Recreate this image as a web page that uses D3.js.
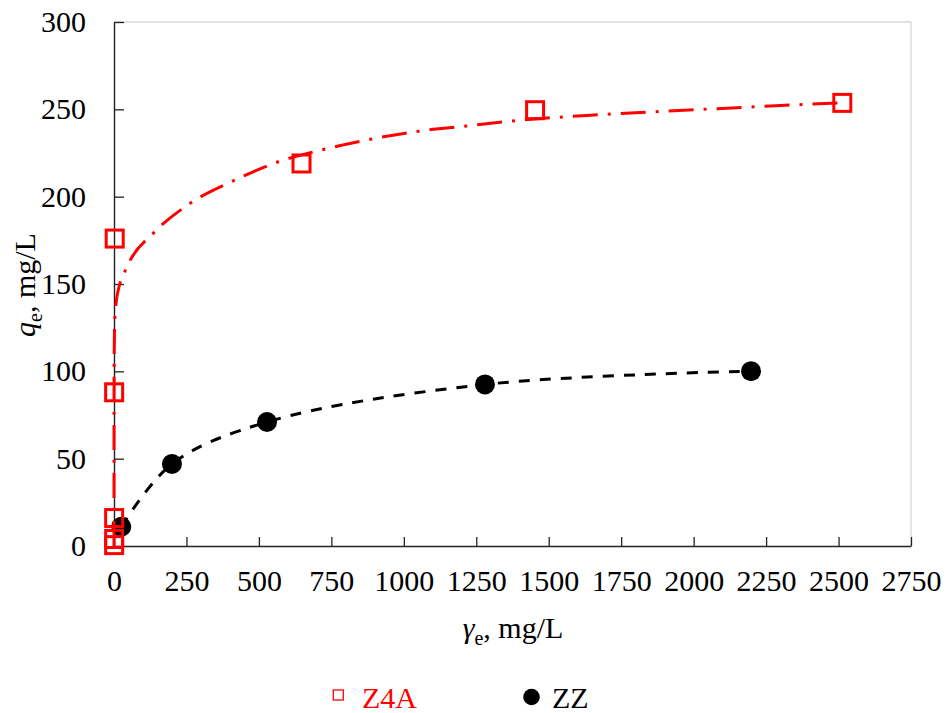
<!DOCTYPE html>
<html>
<head>
<meta charset="utf-8">
<script src="https://cdn.jsdelivr.net/npm/d3@7"></script>
<style>
  html, body { margin: 0; padding: 0; background: #fff; }
  svg { display: block; }
  text { font-family: "Liberation Serif", "Times New Roman", serif; }
</style>
</head>
<body>
<svg id="chart" width="948" height="713"></svg>
<script>
// ---------- data ----------
const xTicks = [0, 250, 500, 750, 1000, 1250, 1500, 1750, 2000, 2250, 2500, 2750];
const yTicks = [0, 50, 100, 150, 200, 250, 300];

// Z4A measured points
const z4aC = [0.5, 0.5, 0.5, 0.5, 2.4, 647, 1453, 2513];
const z4aQ = [0.5, 4, 16, 88, 176, 219, 249.5, 253.7];

// Z4A fitted curve
const z4aFitC = [0, 0.05, 0.3, 1, 2.4, 6, 20, 37, 54, 135, 261, 411, 567, 722, 889, 1052, 1217, 1384, 1632, 1799, 1966, 2133, 2300, 2513];
const z4aFitQ = [0, 60, 100, 115, 128, 137, 150, 157, 163, 179, 196, 209, 220, 227, 233, 237.5, 240.5, 243.5, 246.5, 248, 249.5, 250.8, 252.2, 253.7];

// ZZ measured points
const zzC = [25, 200, 528, 1280, 2198];
const zzQ = [11, 47, 71, 92.5, 100.1];

const seriesNames = ["Z4A", "ZZ"];
const seriesColors = ["#ff0000", "#000000"];

// ---------- layout ----------
const svg = d3.select("#chart");
const x = d3.scaleLinear().domain([0, 2750]).range([114, 911]);
const y = d3.scaleLinear().domain([0, 300]).range([546, 22]);
const FS = 30;

// plot border (light gray, top & right)
svg.append("path")
  .attr("d", `M${x(0)},${y(300)}H${x(2750)}V${y(0)}`)
  .attr("fill", "none").attr("stroke", "#d9d9d9").attr("stroke-width", 1.3);

// axes
const xAxis = d3.axisBottom(x).tickValues(xTicks).tickFormat(d3.format("d"))
  .tickSizeInner(-9).tickSizeOuter(0).tickPadding(24);
const yAxis = d3.axisLeft(y).tickValues(yTicks).tickFormat(d3.format("d"))
  .tickSizeInner(-10).tickSizeOuter(0).tickPadding(28);

const gx = svg.append("g").attr("transform", `translate(0,${y(0)})`).call(xAxis);
const gy = svg.append("g").attr("transform", `translate(${x(0)},0)`).call(yAxis);
[gx, gy].forEach(g => {
  g.select(".domain").attr("stroke", "#222").attr("stroke-width", 1.4);
  g.selectAll(".tick line").attr("stroke", "#222").attr("stroke-width", 1.3);
  g.selectAll(".tick text").attr("fill", "#000").attr("font-size", FS)
    .attr("font-family", '"Liberation Serif", "Times New Roman", serif');
});

// axis titles
const xt = svg.append("text").attr("x", 513).attr("y", 638)
  .attr("text-anchor", "middle").attr("font-size", FS).attr("fill", "#000");
xt.append("tspan").attr("font-style", "italic").text("γ");
xt.append("tspan").attr("font-size", 20).attr("dy", 7).text("e");
xt.append("tspan").attr("dy", -7).text(", mg/L");

const yt = svg.append("text").attr("transform", "translate(35,285) rotate(-90)")
  .attr("text-anchor", "middle").attr("font-size", FS).attr("fill", "#000");
yt.append("tspan").attr("font-style", "italic").text("q");
yt.append("tspan").attr("font-size", 20).attr("dy", 7).text("e");
yt.append("tspan").attr("dy", -7).text(", mg/L");

// ---------- lines ----------
const zzLine = d3.line().x(d => x(d[0])).y(d => y(d[1])).curve(d3.curveCatmullRom.alpha(0.5));
svg.append("path")
  .attr("d", zzLine(d3.zip(zzC, zzQ)))
  .attr("fill", "none").attr("stroke", seriesColors[1]).attr("stroke-width", 3)
  .attr("stroke-dasharray", "11,10");

// ZZ markers
svg.append("g").selectAll("circle").data(d3.zip(zzC, zzQ)).join("circle")
  .attr("cx", d => x(d[0])).attr("cy", d => y(d[1])).attr("r", 10)
  .attr("fill", seriesColors[1]);

const fitLine = d3.line().x(d => x(d[0])).y(d => y(d[1])).curve(d3.curveMonotoneX);
svg.append("path")
  .attr("d", fitLine(d3.zip(z4aFitC, z4aFitQ)))
  .attr("fill", "none").attr("stroke", seriesColors[0]).attr("stroke-width", 3)
  .attr("stroke-dasharray", "25,10,3,10");

// Z4A markers (hollow squares)
const S = 17;
svg.append("g").selectAll("rect").data(d3.zip(z4aC, z4aQ)).join("rect")
  .attr("x", d => x(d[0]) - S / 2).attr("y", d => y(d[1]) - S / 2)
  .attr("width", S).attr("height", S)
  .attr("fill", "none").attr("stroke", seriesColors[0]).attr("stroke-width", 3);

// ---------- legend ----------
const lg = svg.append("g");
lg.append("rect").attr("x", 333.3).attr("y", 690).attr("width", 10).attr("height", 10)
  .attr("fill", "#fff").attr("stroke", seriesColors[0]).attr("stroke-width", 1.3);
lg.append("text").attr("x", 362).attr("y", 707.5).attr("font-size", FS)
  .attr("fill", seriesColors[0]).text(seriesNames[0]);
lg.append("circle").attr("cx", 531.5).attr("cy", 697).attr("r", 8.3).attr("fill", seriesColors[1]);
lg.append("text").attr("x", 552).attr("y", 707.5).attr("font-size", FS)
  .attr("fill", seriesColors[1]).text(seriesNames[1]);
</script>
</body>
</html>
